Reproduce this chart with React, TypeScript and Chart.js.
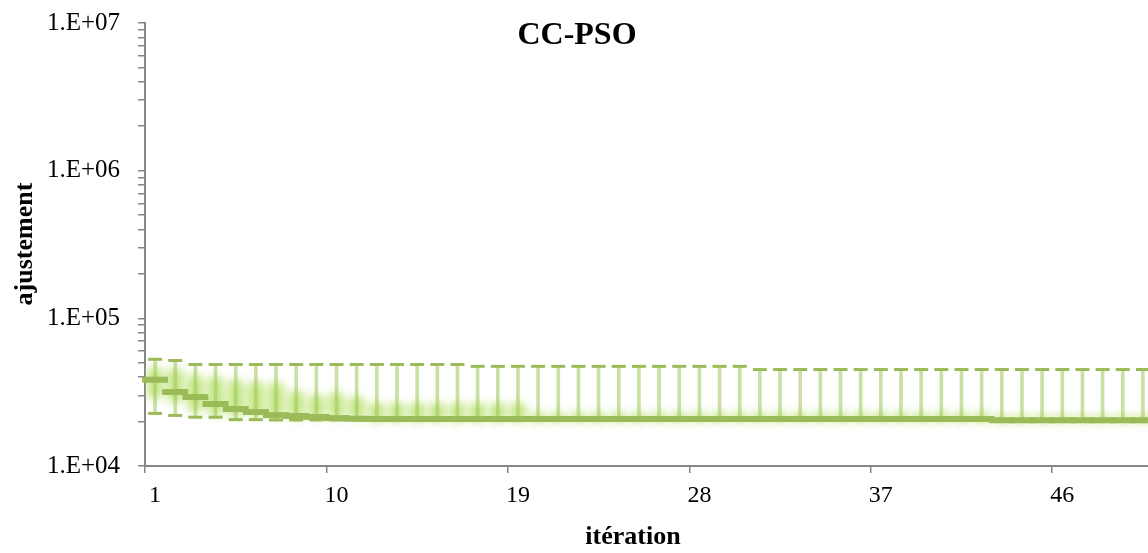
import { useEffect, useRef } from 'react';
import { Chart, registerables } from 'chart.js';

Chart.register(...registerables);

const titleText = 'CC-PSO';
const xTitle = 'itération';
const yTitle = 'ajustement';

const categories = [
  '1', '2', '3', '4', '5', '6', '7', '8', '9', '10',
  '11', '12', '13', '14', '15', '16', '17', '18', '19', '20',
  '21', '22', '23', '24', '25', '26', '27', '28', '29', '30',
  '31', '32', '33', '34', '35', '36', '37', '38', '39', '40',
  '41', '42', '43', '44', '45', '46', '47', '48', '49', '50',
];

// mean fitness per iteration (thick dash markers)
const meanFitness = [
  38400, 31700, 29300, 26300, 24300, 23200, 22100, 21800, 21500, 21100,
  20900, 20800, 20800, 20800, 20800, 20800, 20800, 20800, 20800, 20800,
  20800, 20800, 20800, 20800, 20800, 20800, 20800, 20800, 20800, 20800,
  20800, 20800, 20800, 20800, 20800, 20800, 20800, 20800, 20800, 20800,
  20800, 20800, 20400, 20400, 20400, 20400, 20400, 20400, 20400, 20400,
];

// maximum fitness per iteration (upper dashed markers)
const maxFitness = [
  52800, 51800, 48700, 48700, 48700, 48700, 48700, 48700, 48700, 48700,
  48700, 48700, 48700, 48700, 48700, 48700, 47300, 47300, 47300, 47300,
  47300, 47300, 47300, 47300, 47300, 47300, 47300, 47300, 47300, 47300,
  45000, 45000, 45000, 45000, 45000, 45000, 45000, 45000, 45000, 45000,
  45000, 45000, 45000, 45000, 45000, 45000, 45000, 45000, 45000, 45000,
];

// minimum fitness per iteration (lower dashed markers)
const minFitness = [
  22700, 22000, 21400, 21400, 20600, 20600, 20500, 20500, 20500, 20500,
  20500, 20500, 20500, 20500, 20500, 20500, 20500, 20500, 20500, 20500,
  20500, 20500, 20500, 20500, 20500, 20500, 20500, 20500, 20500, 20500,
  20500, 20500, 20500, 20500, 20500, 20500, 20500, 20500, 20500, 20500,
  20500, 20500, 20200, 20200, 20200, 20200, 20200, 20200, 20200, 20200,
];

// spread band (soft glow) upper and lower bounds
const bandHigh = [
  46800, 46100, 42000, 40700, 38800, 37600, 37000, 32500, 30700, 31700,
  29800, 27100, 27100, 27100, 27100, 27100, 27100, 27100, 27100, 23000,
  23000, 23000, 23000, 23000, 23000, 23000, 23000, 23000, 23000, 23000,
  23000, 23000, 23000, 23000, 23000, 23000, 23000, 23000, 23000, 23000,
  23000, 23000, 22000, 22000, 22000, 22000, 22000, 22000, 22000, 22000,
];
const bandLow = [
  28400, 26700, 23200, 21800, 21500, 21500, 21100, 20800, 20800, 20800,
  20500, 19700, 19700, 19700, 19700, 19700, 19700, 19700, 19700, 19900,
  19900, 19900, 19900, 19900, 19900, 19900, 19900, 19900, 19900, 19900,
  19900, 19900, 19900, 19900, 19900, 19900, 19900, 19900, 19900, 19900,
  19900, 19900, 19800, 19800, 19800, 19800, 19800, 19800, 19800, 19800,
];

const yTickValues = [
  10000, 20000, 30000, 40000, 50000, 60000, 70000, 80000, 90000,
  100000, 200000, 300000, 400000, 500000, 600000, 700000, 800000, 900000,
  1000000, 2000000, 3000000, 4000000, 5000000, 6000000, 7000000, 8000000, 9000000,
  10000000,
];
const yMajorTicks = [10000, 100000, 1000000, 10000000];
const yMajorLabels = ['1.E+04', '1.E+05', '1.E+06', '1.E+07'];
const xLabelEvery = 9;

const FONT = "'Liberation Serif', 'Times New Roman', serif";
const GREEN = '#9BBB59';
const LINE_COLOR = 'rgba(160, 198, 95, 0.55)';
const GLOW = 'rgba(175, 222, 90, 0.75)';
const AXIS = '#868686';

const glowPlugin = {
  id: 'glowBlur',
  beforeDatasetDraw(chart: any, args: any) {
    const ds = chart.data.datasets[args.index];
    if (ds.glowBlur) {
      chart.ctx.save();
      chart.ctx.filter = `blur(${ds.glowBlur}px)`;
    }
  },
  afterDatasetDraw(chart: any, args: any) {
    const ds = chart.data.datasets[args.index];
    if (ds.glowBlur) chart.ctx.restore();
  },
};

const textPlugin = {
  id: 'chartTexts',
  afterDraw(chart: any) {
    const ctx = chart.ctx as CanvasRenderingContext2D;
    ctx.save();
    ctx.fillStyle = '#000';
    ctx.textAlign = 'center';
    ctx.textBaseline = 'alphabetic';
    ctx.font = `bold 32px ${FONT}`;
    ctx.fillText(titleText, 577, 44);
    ctx.font = `bold 26px ${FONT}`;
    ctx.fillText(xTitle, 633, 544);
    ctx.translate(32, 244);
    ctx.rotate(-Math.PI / 2);
    ctx.fillText(yTitle, 0, 0);
    ctx.restore();
  },
};

export default function App() {
  const ref = useRef<HTMLCanvasElement>(null);

  useEffect(() => {
    document.body.style.margin = '0';
    const canvas = ref.current!;
    const chart = new Chart(canvas, {
      type: 'bar',
      data: {
        labels: categories,
        datasets: [
          {
            type: 'line',
            label: 'moyenne',
            data: meanFitness,
            showLine: false,
            pointStyle: 'line',
            pointRadius: 13,
            pointBorderWidth: 6,
            pointBorderColor: GREEN,
            pointBackgroundColor: GREEN,
            borderColor: GREEN,
            order: 0,
          } as any,
          {
            type: 'line',
            label: 'max',
            data: maxFitness,
            showLine: false,
            pointStyle: 'line',
            pointRadius: 7,
            pointBorderWidth: 3,
            pointBorderColor: GREEN,
            pointBackgroundColor: GREEN,
            borderColor: GREEN,
            order: 1,
          } as any,
          {
            type: 'line',
            label: 'min',
            data: minFitness,
            showLine: false,
            pointStyle: 'line',
            pointRadius: 7,
            pointBorderWidth: 3,
            pointBorderColor: GREEN,
            pointBackgroundColor: GREEN,
            borderColor: GREEN,
            order: 1,
          } as any,
          {
            type: 'bar',
            label: 'étendue',
            data: minFitness.map((v, i) => [v, maxFitness[i]]),
            backgroundColor: LINE_COLOR,
            barThickness: 3,
            grouped: false,
            order: 2,
          } as any,
          {
            type: 'bar',
            label: 'écart',
            data: bandLow.map((v, i) => [v, bandHigh[i]]),
            backgroundColor: GLOW,
            barThickness: 16,
            borderRadius: 8,
            borderSkipped: false,
            grouped: false,
            order: 3,
            glowBlur: 4,
          } as any,
        ],
      },
      options: {
        responsive: false,
        devicePixelRatio: 1,
        animation: false,
        events: [],
        layout: { padding: { left: 0, top: 23, right: 7, bottom: 0 } },
        plugins: {
          legend: { display: false },
          title: { display: false },
          tooltip: { enabled: false },
        },
        scales: {
          x: {
            type: 'category',
            offset: true,
            grid: {
              offset: true,
              drawOnChartArea: false,
              drawTicks: true,
              tickLength: 7,
              lineWidth: 1.5,
              color: (c: any) => (c.index % xLabelEvery === 0 ? AXIS : 'rgba(0,0,0,0)'),
            },
            border: { display: true, color: AXIS, width: 2 },
            ticks: {
              autoSkip: false,
              maxRotation: 0,
              minRotation: 0,
              padding: 8,
              color: '#000',
              font: { family: FONT, size: 24 },
              callback: (_v: any, index: number) =>
                index % xLabelEvery === 0 ? categories[index] : '',
            },
            afterFit: (scale: any) => {
              scale.height = 87;
              scale.paddingLeft = 0;
              scale.paddingRight = 0;
            },
          },
          y: {
            type: 'logarithmic',
            min: 10000,
            max: 10000000,
            afterBuildTicks: (scale: any) => {
              scale.ticks = yTickValues.map((v) => ({ value: v }));
            },
            afterFit: (scale: any) => {
              scale.width = 145;
              scale.paddingTop = 0;
              scale.paddingBottom = 0;
            },
            grid: {
              drawOnChartArea: false,
              drawTicks: true,
              tickLength: 7,
              lineWidth: 1.5,
              color: AXIS,
            },
            border: { display: true, color: AXIS, width: 2 },
            ticks: {
              autoSkip: false,
              padding: 18,
              color: '#000',
              font: { family: FONT, size: 25 },
              callback: (v: any) => {
                const i = yMajorTicks.indexOf(Number(v));
                return i >= 0 ? yMajorLabels[i] : '';
              },
            },
          },
        },
      } as any,
      plugins: [glowPlugin, textPlugin],
    });
    return () => chart.destroy();
  }, []);

  return (
    <div
      style={{
        position: 'fixed',
        left: 0,
        top: 0,
        width: 1148,
        height: 553,
        overflow: 'hidden',
        background: '#fff',
      }}
    >
      <div style={{ width: 1172, height: 553 }}>
        <canvas ref={ref} width={1172} height={553} style={{ display: 'block' }} />
      </div>
    </div>
  );
}
